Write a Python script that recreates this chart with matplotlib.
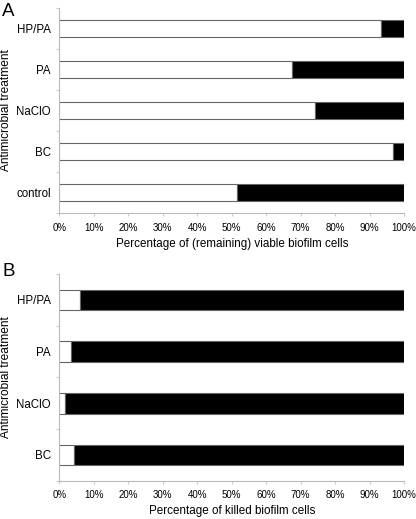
import matplotlib
matplotlib.use("Agg")
import matplotlib.pyplot as plt
import numpy as np
from matplotlib.ticker import FixedLocator

plt.rcParams['font.family'] = ['Liberation Sans', 'DejaVu Sans']

cats_a = ["control", "BC", "NaClO", "PA", "HP/PA"]
viable_a = [51.6, 96.9, 74.2, 67.4, 93.4]

cats_b = ["BC", "NaClO", "PA", "HP/PA"]
white_b = [4.3, 1.7, 3.3, 6.1]

xticks = list(range(0, 101, 10))
xticklabels = [f"{v}%" for v in xticks]

W, H = 416, 519
fig = plt.figure(figsize=(W / 100, H / 100), dpi=100)
axA = fig.add_axes([0.1426, 0.5896, 0.829, 0.395])
axB = fig.add_axes([0.1426, 0.0738, 0.829, 0.398])

def style(ax, cats, white, xlabel, letter, letter_y):
    n = len(cats)
    y = np.arange(n)
    rest = [100 - w for w in white]
    ax.barh(y, white, height=0.4, color="white", edgecolor="#666666", linewidth=0.8)
    ax.barh(y, rest, left=white, height=0.4, color="black", edgecolor="#666666", linewidth=0.8)
    ax.set_xlim(0, 100)
    ax.set_ylim(-0.5, n - 0.5)
    ax.set_xticks(xticks)
    ax.set_xticklabels(xticklabels, fontsize=7)
    ax.set_yticks(y)
    ax.set_yticklabels(cats, fontsize=8.3)
    ax.yaxis.set_minor_locator(FixedLocator(np.arange(-0.5, n, 1.0)))
    ax.tick_params(axis='y', which='major', length=0, pad=6)
    ax.tick_params(axis='y', which='minor', length=2.5, color="#cccccc", width=0.8)
    ax.tick_params(axis='x', length=2.5, color="#cccccc", width=0.8, pad=4.5)
    for s in ['top', 'right']:
        ax.spines[s].set_visible(False)
    for s in ['left', 'bottom']:
        ax.spines[s].set_color("#bbbbbb")
        ax.spines[s].set_linewidth(0.8)
    ax.set_xlabel(xlabel, fontsize=8.4, labelpad=3.5)
    ax.set_ylabel("Antimicrobial treatment", fontsize=8.6)
    ax.yaxis.set_label_coords(-0.138, 0.5)
    fig.text(2 / W, 1 - letter_y / H, letter, fontsize=13.5, va='center', ha='left')

style(axA, cats_a, viable_a, "Percentage of (remaining) viable biofilm cells", "A", 12)
style(axB, cats_b, white_b, "Percentage of killed biofilm cells", "B", 272)

fig.savefig("out.png", dpi=100)
